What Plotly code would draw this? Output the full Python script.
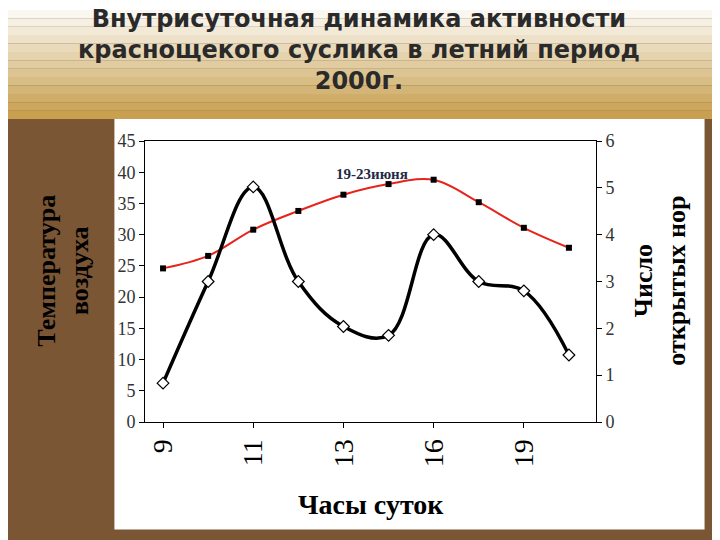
import plotly.graph_objects as go

hours = ["9", "10", "11", "12", "13", "15", "16", "18", "19", "21"]
hour_labels = ["9", "11", "13", "16", "19"]
temperature = [24.6, 26.6, 30.8, 33.8, 36.4, 38.1, 38.8, 35.2, 31.1, 27.9]
burrows = [0.83, 3.0, 5.02, 3.0, 2.04, 1.85, 4.0, 3.0, 2.8, 1.43]

# target plot area in page pixels
L, R, T, B = 143, 600, 140, 422
W, H = R - L, B - T


def px(x):
    return (x - L) / W


def py(y):
    return (B - y) / H


fig = go.Figure()

fig.add_trace(go.Scatter(
    x=hours, y=temperature, mode="lines+markers",
    line=dict(color="#e8231c", width=2, shape="spline"),
    marker=dict(symbol="square", size=6, color="black"),
    showlegend=False,
))
fig.add_trace(go.Scatter(
    x=hours, y=burrows, yaxis="y2", mode="lines+markers",
    line=dict(color="black", width=3.5, shape="spline", smoothing=1.1),
    marker=dict(symbol="diamond", size=9, color="white", line=dict(color="black", width=1.2)),
    showlegend=False,
))

# background: title band gradient + white chart panel
shapes = []
n = 14
for i in range(n):
    y0 = i * 118 / n
    y1 = (i + 1) * 118 / n
    t = i / (n - 1)
    r = int(255 + (200 - 255) * t)
    g = int(255 + (160 - 255) * t)
    b = int(255 + (80 - 255) * t)
    shapes.append(dict(type="rect", xref="paper", yref="paper", layer="below",
                       x0=px(-10), x1=px(730), y0=py(y1), y1=py(y0),
                       fillcolor=f"rgb({r},{g},{b})", line=dict(width=0)))
shapes.append(dict(type="rect", xref="paper", yref="paper", layer="below",
                   x0=px(112), x1=px(710), y0=py(530), y1=py(118),
                   fillcolor="white", line=dict(width=0)))

times = "Liberation Serif"
fig.update_layout(
    width=720, height=540,
    margin=dict(l=L - 6, r=720 - R + 12, t=T - 7, b=540 - B + 8),
    paper_bgcolor="#7a5634",
    plot_bgcolor="white",
    shapes=shapes,
    xaxis=dict(
        type="category", tickmode="array", tickvals=hours[::2], ticktext=hour_labels,
        tickangle=-90, tickfont=dict(family=times, size=28, color="black"),
        showline=True, linecolor="black", mirror=True, showgrid=False,
        ticks="outside", ticklen=5, tickcolor="black",
        range=[-0.4, 9.6],
    ),
    yaxis=dict(
        range=[0, 45], dtick=5, tickfont=dict(family=times, size=18, color="#333"),
        showline=True, linecolor="black", mirror=True, showgrid=False,
        ticks="outside", ticklen=5, tickcolor="black", zeroline=False,
    ),
    yaxis2=dict(
        range=[0, 6], dtick=1, overlaying="y", side="right",
        tickfont=dict(family=times, size=18, color="#333"),
        showline=True, linecolor="black", showgrid=False,
        ticks="outside", ticklen=5, tickcolor="black", zeroline=False,
    ),
    annotations=[
        dict(text="<b>Внутрисуточная динамика активности<br>краснощекого суслика в летний период<br>2000г.</b>",
             xref="paper", yref="paper", x=px(360), y=py(2), xanchor="center", yanchor="top",
             showarrow=False, font=dict(family="DejaVu Sans", size=24, color="#2a2a2a")),
        dict(text="<b>19-23июня</b>", xref="paper", yref="paper", x=px(373), y=py(163),
             showarrow=False, font=dict(family=times, size=15, color="#1f2a44")),
        dict(text="<b>Температура<br>воздуха</b>", xref="paper", yref="paper",
             x=px(60), y=py(270), xanchor="center", yanchor="middle", textangle=-90,
             showarrow=False, font=dict(family=times, size=26, color="black")),
        dict(text="<b>Число<br>открытых нор</b>", xref="paper", yref="paper",
             x=px(665), y=py(280), xanchor="center", yanchor="middle", textangle=-90,
             showarrow=False, font=dict(family=times, size=26, color="black")),
        dict(text="<b>Часы суток</b>", xref="paper", yref="paper",
             x=px(372), y=py(505), xanchor="center", yanchor="middle", showarrow=False,
             font=dict(family=times, size=28, color="black")),
    ],
)

fig.write_html("out.html")
